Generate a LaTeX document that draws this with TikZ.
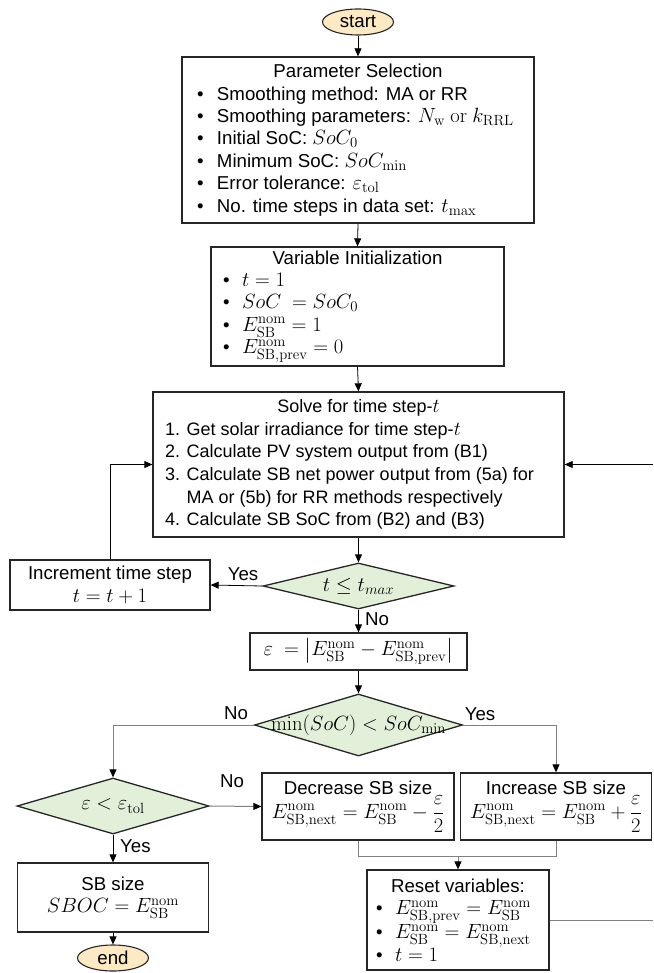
\RequirePackage{fix-cm}
\documentclass[tikz,border=0pt]{standalone}
\usepackage{amsmath}
\usepackage[no-math]{fontspec}
\setmainfont{Liberation Sans}
\usetikzlibrary{shapes.geometric,arrows.meta,calc}
\DeclareMathSizes{18.67}{20.6}{14.8}{11}
\DeclareMathSizes{18}{19.8}{14.2}{10.6}
\definecolor{ellfill}{RGB}{253,234,196}
\definecolor{decfill}{RGB}{226,240,217}
\definecolor{graylink}{RGB}{128,128,128}
\newcommand{\bul}{\makebox[20pt][l]{\textbullet}}
\newcommand{\bulb}{\makebox[19pt][l]{\textbullet}}
\newcommand{\nomE}[1]{E^{\mathrm{nom}}_{\mathrm{#1}}}
\tikzset{
  every node/.style={font=\fontsize{18.67}{22.4}\selectfont, inner sep=0pt},
  box/.style={draw=black!85, line width=1.3pt, fill=white, rectangle, align=center},
  dec/.style={draw=black!85, line width=1.3pt, fill=decfill, diamond},
  term/.style={draw=black!85, line width=1.1pt, fill=ellfill, ellipse, minimum width=71pt, minimum height=26pt},
  arr/.style={-{Triangle[length=8pt,width=7pt]}, line width=0.8pt, draw=black},
  garr/.style={-{Triangle[length=8pt,width=7pt,color=black]}, line width=1pt, draw=graylink},
  gline/.style={line width=1pt, draw=graylink},
  lbl/.style={inner sep=1pt}
}
\begin{document}
\begin{tikzpicture}[x=1pt,y=-1pt]
\useasboundingbox (0,0) rectangle (653,973);

% terminals
\node[term] (start) at (358,22) {start};
\node[term] (end) at (113,958) {end};

% parameter selection
\node[box, minimum width=352pt, minimum height=166pt] (param) at (358,140) {Parameter Selection\\
\makebox[322pt][l]{\bul Smoothing method: MA or RR}\\
\makebox[322pt][l]{\bul Smoothing parameters: $N_{\mathrm{w}}\ \mathrm{or}\ k_{\mathrm{RRL}}$}\\
\makebox[322pt][l]{\bul Initial SoC: $SoC_0$}\\
\makebox[322pt][l]{\bul Minimum SoC: $SoC_{\min}$}\\
\makebox[322pt][l]{\bul Error tolerance: $\varepsilon_{\mathrm{tol}}$}\\
\makebox[322pt][l]{\bul No. time steps in data set: $t_{\max}$}};

% variable initialization
\node[box, minimum width=293pt, minimum height=119pt] (var) at (357.5,306.5) {Variable Initialization\\
\makebox[269pt][l]{\bulb $t=1$}\\
\makebox[269pt][l]{\bulb $SoC\ = SoC_0$}\\
\makebox[269pt][l]{\bulb $\nomE{SB} = 1$}\\
\makebox[269pt][l]{\bulb $\nomE{SB,prev} = 0$}};

% solve
\node[box, minimum width=411pt, minimum height=145pt, font=\fontsize{18}{22.6}\selectfont] (solve) at (358.5,464.5) {Solve for time step-$t$\\
\makebox[387pt][l]{1. Get solar irradiance for time step-$t$}\\
\makebox[387pt][l]{2. Calculate PV system output from (B1)}\\
\makebox[387pt][l]{3. Calculate SB net power output from (5a) for}\\
\makebox[387pt][l]{\hphantom{3. }MA or (5b) for RR methods respectively}\\
\makebox[387pt][l]{4. Calculate SB SoC from (B2) and (B3)}};

% decision t <= tmax
\node[dec, minimum width=191pt, minimum height=46pt] (d1) at (358.5,586) {};
\node (d1t) at (d1) {$t \le t_{max}$};

% increment
\node[box, minimum width=200pt, minimum height=50pt] (inc) at (110,585) {Increment time step\\ $t = t+1$};

% epsilon box
\node[box, minimum width=217pt, minimum height=37pt] (eps) at (358.5,651.5) {$\varepsilon\ = \bigl|\nomE{SB} - \nomE{SB,prev}\bigr|$};

% decision min SoC
\node[dec, minimum width=208pt, minimum height=62pt] (d2) at (358.5,725) {};
\node (d2t) at (d2) {$\min(SoC) < SoC_{\min}$};

% decision eps < tol
\node[dec, minimum width=192pt, minimum height=56pt] (d3) at (113,806) {};
\node (d3t) at (d3) {$\varepsilon < \varepsilon_{\mathrm{tol}}$};

% decrease / increase
\node[box, minimum width=192pt, minimum height=67pt] (dec) at (358,806.5) {Decrease SB size\\ $\nomE{SB,next} = \nomE{SB} - \dfrac{\varepsilon}{2}$};
\node[box, minimum width=191pt, minimum height=67pt] (incr) at (556,806.5) {Increase SB size\\ $\nomE{SB,next} = \nomE{SB} + \dfrac{\varepsilon}{2}$};

% SB size
\node[box, minimum width=191pt, minimum height=69pt] (sbsize) at (113,897.5) {SB size\\ $SBOC = \nomE{SB}$};

% reset
\node[box, minimum width=182pt, minimum height=100pt] (reset) at (458,920) {Reset variables:\\
\makebox[164pt][l]{\bulb $\nomE{SB,prev} = \nomE{SB}$}\\
\makebox[164pt][l]{\bulb $\nomE{SB} = \nomE{SB,next}$}\\
\makebox[164pt][l]{\bulb $t=1$}};

% coordinates
\coordinate (mrg) at (458,856);
\coordinate (rout) at (653,920);
\coordinate (rin) at (653,464.5);

% connectors
\draw[arr] (start.south) -- (param.north);
\draw[arr] (param.south) -- (var.north);
\draw[arr] (var.south) -- (solve.north);
\draw[arr] (solve.south) -- (d1.north);
\draw[arr] (d1.west) -- (inc.east);
\draw[arr] (inc.north) |- (solve.west);
\draw[arr] (d1.south) -- (eps.north);
\draw[arr] (eps.south) -- (d2.north);
\draw[garr] (d2.west) -| (d3.north);
\draw[garr] (d2.east) -| (incr.north);
\draw[garr] (d3.east) -- (dec.west);
\draw[arr] (d3.south) -- (sbsize.north);
\draw[arr] (sbsize.south) -- (end.north);
\draw[gline] (dec.south) |- (mrg);
\draw[gline] (incr.south) |- (mrg);
\draw[garr] (mrg) -- (reset.north);
\draw[gline] (reset.east) -- (rout);
\draw[arr] (rin) -- (solve.east);

% labels
\node[lbl] (yes1) at (243,574) {Yes};
\node[lbl, anchor=west] (no1) at (364,619) {No};
\node[lbl] (no2) at (236,713) {No};
\node[lbl] (yes2) at (480,714) {Yes};
\node[lbl] (no3) at (232,781) {No};
\node[lbl, anchor=west] (yes3) at (119,846) {Yes};
\end{tikzpicture}
\end{document}
